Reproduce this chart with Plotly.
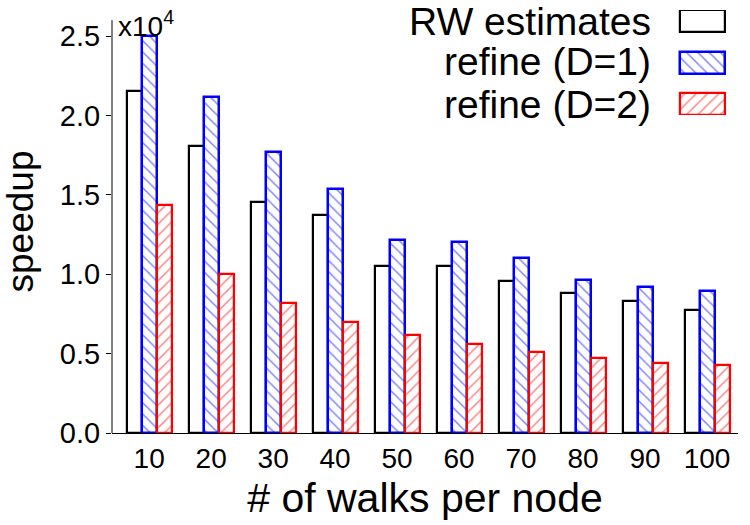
import plotly.graph_objects as go

walks = [10, 20, 30, 40, 50, 60, 70, 80, 90, 100]
rw_estimates = [2.155, 1.805, 1.455, 1.373, 1.050, 1.052, 0.957, 0.884, 0.833, 0.775]
refine_d1 = [2.500, 2.118, 1.768, 1.538, 1.213, 1.205, 1.102, 0.962, 0.921, 0.896]
refine_d2 = [1.438, 1.003, 0.819, 0.699, 0.615, 0.559, 0.510, 0.470, 0.441, 0.430]
series_names = ["RW estimates", "refine (D=1)", "refine (D=2)"]
y_ticks = [0.0, 0.5, 1.0, 1.5, 2.0, 2.5]

FONT = "Liberation Sans, Arial, Helvetica, sans-serif"
W, H = 750, 525
ML, MR, MT, MB = 112, 12, 10, 92
plot_w = W - ML - MR
plot_h = H - MT - MB
px_per_unit = 158.8
y_top = plot_h / px_per_unit

styles = [
    dict(line=dict(color="black", width=2.2), pattern=dict(shape="")),
    dict(line=dict(color="#0000ff", width=2.5),
         pattern=dict(shape="\\", fgcolor="#0000ff", bgcolor="white", size=8, solidity=0.18)),
    dict(line=dict(color="#ff0000", width=2.2),
         pattern=dict(shape="/", fgcolor="#ff0000", bgcolor="white", size=8, solidity=0.18)),
]
bw = 2.42
offsets = [-1.5 * bw, -0.5 * bw, 0.5 * bw]

fig = go.Figure()
for vals, st, off, name in zip([rw_estimates, refine_d1, refine_d2], styles, offsets, series_names):
    fig.add_trace(go.Bar(
        x=walks, y=vals, width=bw, offset=off, name=name, showlegend=False,
        marker=dict(color="white", line=st["line"], pattern=st["pattern"]),
    ))

# legend swatches on a small inset axis
for i, (st, name) in enumerate(zip(styles, series_names)):
    fig.add_trace(go.Bar(
        x=[1], y=[2 - i], base=0, orientation="h", width=0.53, showlegend=False,
        xaxis="x2", yaxis="y2",
        marker=dict(color="white", line=st["line"], pattern=st["pattern"]),
    ))

def px_to_paper_x(px):
    return (px - ML) / plot_w

def py_to_paper_y(py):
    return (H - MB - py) / plot_h

x2d = [px_to_paper_x(678), px_to_paper_x(727)]
y2d = [py_to_paper_y(115), 1.0]

fig.update_layout(
    width=W, height=H,
    margin=dict(l=ML, r=MR, t=MT, b=MB),
    paper_bgcolor="white", plot_bgcolor="white",
    font=dict(family=FONT, color="black"),
    xaxis=dict(
        range=[4, 105], tickvals=walks, ticktext=[str(w) for w in walks],
        showline=True, linecolor="black", linewidth=1, ticks="", showgrid=False,
        zeroline=False, tickfont=dict(size=28),
        title=dict(text="# of walks per node", font=dict(size=41), standoff=10),
    ),
    yaxis=dict(
        range=[0, y_top], tickvals=y_ticks, ticktext=[f"{v:.1f}" for v in y_ticks],
        showline=False, ticks="outside", ticklen=5, tickcolor="black",
        showgrid=False, zeroline=False, tickfont=dict(size=29),
        title=dict(text="speedup", font=dict(size=37), standoff=14),
    ),
    xaxis2=dict(domain=x2d, range=[-0.04, 1.04], visible=False, fixedrange=True),
    yaxis2=dict(domain=y2d, range=[-0.265, 2.265], visible=False, fixedrange=True, anchor="x2"),
    bargap=0,
    shapes=[dict(type="line", xref="paper", yref="y", x0=0, x1=0, y0=0, y1=2.6,
                 line=dict(color="black", width=1))],
    annotations=[
        dict(text="x10<sup>4</sup>", xref="paper", yref="paper",
             x=px_to_paper_x(116), y=py_to_paper_y(24), xanchor="left", yanchor="middle",
             showarrow=False, font=dict(size=28)),
    ] + [
        dict(text=name, xref="paper", yref="paper", x=px_to_paper_x(653),
             y=py_to_paper_y(cy), xanchor="right", yanchor="middle",
             showarrow=False, font=dict(size=39))
        for name, cy in zip(series_names, [21, 62, 104])
    ],
)

fig.write_html("out.html")
